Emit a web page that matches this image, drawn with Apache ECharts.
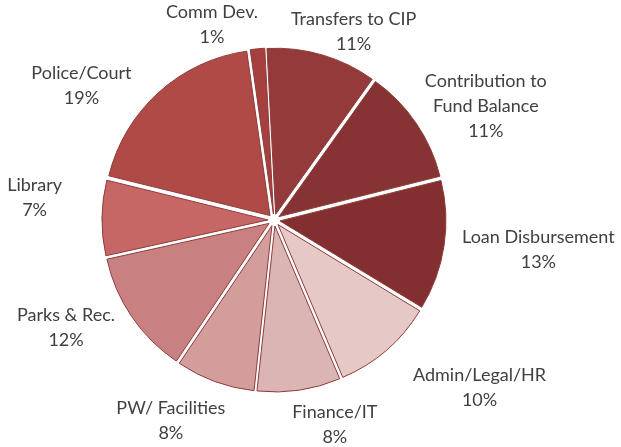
<!DOCTYPE html>
<html>
<head>
<meta charset="utf-8">
<script src="https://cdn.jsdelivr.net/npm/echarts@6/dist/echarts.min.js"></script>
<style>
    html, body { margin: 0; padding: 0; background: #fff; }
    #chart { width: 621px; height: 447px; }
</style>
</head>
<body>
<div id="chart"></div>
<script>
    // slices, clockwise from the top
    var categories = ['Transfers to CIP', 'Contribution to\nFund Balance', 'Loan Disbursement', 'Admin/Legal/HR',
        'Finance/IT', 'PW/ Facilities', 'Parks & Rec.', 'Library', 'Police/Court', 'Comm Dev.'];
    var shares = [10.7, 11.2, 12.6, 9.9, 8.1, 7.7, 12.1, 7.3, 18.9, 1.4];
    var colors = ['#943a3a', '#883333', '#842f2f', '#e6c9c7', '#dbb5b4', '#d39d9b',
        '#c98080', '#c76765', '#b04a47', '#a5403e'];

    // hand nudges for the label boxes (excel "best fit" placement)
    var labelNudge = [[11, 10], [11, 10], [9, -1], [43, 11], [28, 0], [-22, 6], [-17, -9], [-30, -20], [-37, 19], [-40, 11]];

    var cx = 274, cy = 220, radius = 166, explode = 6, startAngle = 93, gap = 10;
    var fontSize = 18, lineH = 25, fontFamily = 'Lato';
    var total = shares.reduce(function (a, b) { return a + b; }, 0);

    var measureCtx = document.createElement('canvas').getContext('2d');
    measureCtx.font = fontSize + 'px ' + fontFamily;

    function labelSize(i) {
        var lines = (categories[i] + '\n00%').split('\n');
        var w = 0;
        lines.forEach(function (l) { w = Math.max(w, measureCtx.measureText(l).width); });
        return [w, lines.length * lineH];
    }

    function midAngle(i) {
        var before = 0;
        for (var j = 0; j < i; j++) before += shares[j];
        return (startAngle - 360 * (before + shares[i] / 2) / total) * Math.PI / 180;
    }

    // exploded slices (every slice "selected" so it is pulled out)
    var pieData = categories.map(function (name, i) {
        return { name: name, value: shares[i], selected: true, itemStyle: { color: colors[i] } };
    });
    // same slices, invisible, only to carry the labels
    var labelData = categories.map(function (name, i) {
        return { name: name, value: shares[i] };
    });

    var chart = echarts.init(document.getElementById('chart'));
    chart.setOption({
        animation: false,
        series: [{
            type: 'pie',
            center: [cx, cy],
            radius: radius,
            startAngle: startAngle,
            clockwise: true,
            selectedMode: 'multiple',
            selectedOffset: explode,
            itemStyle: { borderColor: '#8e3b3a', borderWidth: 1 },
            select: { itemStyle: { borderColor: '#8e3b3a', borderWidth: 1 } },
            emphasis: { disabled: true },
            label: { show: false },
            labelLine: { show: false },
            data: pieData
        }, {
            type: 'pie',
            center: [cx, cy],
            radius: radius,
            startAngle: startAngle,
            clockwise: true,
            silent: true,
            percentPrecision: 0,
            itemStyle: { color: 'rgba(0,0,0,0)', borderWidth: 0 },
            emphasis: { disabled: true },
            label: {
                show: true,
                position: 'outside',
                overflow: 'none',
                formatter: '{b}\n{d}%',
                color: '#404040',
                fontFamily: fontFamily,
                fontSize: fontSize,
                lineHeight: lineH
            },
            labelLine: { show: false },
            labelLayout: function (params) {
                var i = params.dataIndex;
                var a = midAngle(i);
                var ux = Math.cos(a), uy = -Math.sin(a);
                var r = radius + explode + gap;
                var size = labelSize(i);
                return {
                    x: cx + ux * r + ux * size[0] / 2 + labelNudge[i][0],
                    y: cy + uy * r + uy * size[1] / 2 + labelNudge[i][1],
                    align: 'center',
                    verticalAlign: 'middle'
                };
            },
            data: labelData
        }]
    });
</script>
</body>
</html>
